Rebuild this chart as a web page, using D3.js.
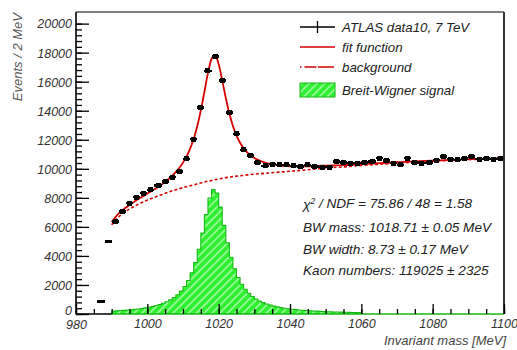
<!DOCTYPE html>
<html><head><meta charset="utf-8">
<script src="https://cdn.jsdelivr.net/npm/d3@7"></script>
<style>
body{margin:0;background:#fff}
svg{display:block}
text{font-family:"Liberation Sans",Arial,Helvetica,sans-serif;font-style:italic}
</style>
</head><body>
<svg id="c" width="517" height="350"></svg>
<script>
// ---- data ----
const dataMass = [987,989,991,993,995,997,999,1001,1003,1005,1007,1009,1011,1013,1015,1017,1019,1021,1023,1025,1027,1029,1031,1033,1035,1037,1039,1041,1043,1045,1047,1049,1051,1053,1055,1057,1059,1061,1063,1065,1067,1069,1071,1073,1075,1077,1079,1081,1083,1085,1087,1089,1091,1093,1095,1097,1099];
const dataEvents = [850,5000,6370,7060,7630,8050,8320,8550,8850,9130,9420,9820,10690,12040,14230,16750,17730,16080,13890,12410,11310,10920,10430,10210,10320,10280,10280,10210,10160,10280,10150,10110,10110,10500,10430,10400,10390,10430,10500,10740,10570,10390,10280,10740,10430,10390,10430,10600,10850,10670,10620,10700,10850,10670,10700,10670,10720];

const fitMass = [990,991,992,993,994,995,996,997,998,999,1000,1001,1002,1003,1004,1005,1006,1007,1008,1009,1010,1011,1012,1013,1014,1015,1016,1017,1018,1019,1020,1021,1022,1023,1024,1025,1026,1027,1028,1029,1030,1031,1032,1033,1034,1035,1036,1037,1038,1039,1040,1042,1044,1046,1048,1050,1055,1060,1065,1070,1075,1080,1085,1090,1095,1100];
const fitValues = [6334,6658,6924,7141,7340,7512,7676,7834,7996,8142,8294,8442,8589,8746,8916,9101,9307,9529,9785,10075,10425,10858,11388,12072,12932,14023,15298,16607,17578,17812,17210,16095,14875,13805,12943,12285,11791,11417,11135,10911,10748,10613,10507,10424,10358,10306,10265,10233,10209,10190,10177,10162,10169,10175,10197,10224,10253,10325,10387,10452,10511,10563,10617,10662,10698,10735];

const bgMass = [990,991,992,993,994,995,996,997,998,999,1000,1002,1004,1006,1008,1010,1012,1014,1016,1018,1020,1022,1024,1026,1028,1030,1032,1034,1036,1038,1040,1042,1044,1046,1048,1050,1055,1060,1065,1070,1075,1080,1085,1090,1095,1100];
const bgValues = [6140,6450,6700,6900,7080,7230,7370,7500,7630,7740,7850,8040,8220,8400,8560,8700,8830,8960,9090,9200,9300,9390,9460,9520,9580,9630,9670,9710,9750,9790,9830,9870,9920,9960,10010,10060,10130,10230,10310,10390,10460,10520,10580,10630,10670,10710];

const signalStart = 990, signalBinWidth = 1, signalEnd = 1100;
const signalValues = [201,216,232,250,271,294,320,349,383,422,467,520,581,654,741,846,974,1132,1329,1577,1895,2306,2842,3550,4457,5582,6847,7988,8580,8327,7363,6106,4904,3905,3118,2515,2054,1700,1427,1209,1037,897,783,689,610,544,488,440,399,363,332,304,280,259,240,223,207,195,182,171,160,151,142,134,127,120,113,108,102,97];

const xMajorTicks = [980,1000,1020,1040,1060,1080,1100];
const yMajorTicks = [0,2000,4000,6000,8000,10000,12000,14000,16000,18000,20000];
const legendLabels = ["ATLAS data10, 7 TeV","fit function","background","Breit-Wigner signal"];
const statLines = ["/ NDF = 75.86 / 48 = 1.58","BW mass: 1018.71 \u00b1 0.05 MeV","BW width: 8.73 \u00b1 0.17 MeV","Kaon numbers: 119025 \u00b1 2325"];
const xTitle = "Invariant mass [MeV]";
const yTitle = "Events / 2 MeV";

// ---- drawing ----
const svg = d3.select("#c");
const L = 76, R = 504, T = 12, B = 314;
const x = d3.scaleLinear().domain([980,1100]).range([L,R]);
const y = d3.scaleLinear().domain([0,20800]).range([B,T]);
const RED = "#d40000", GREEN_FILL = "#2ff02f", GREEN_LINE = "#14b814";

const defs = svg.append("defs");
const pat = defs.append("pattern").attr("id","hatch").attr("patternUnits","userSpaceOnUse")
  .attr("width",5.5).attr("height",5.5).attr("patternTransform","rotate(45)");
pat.append("rect").attr("width",5.5).attr("height",5.5).attr("fill",GREEN_FILL);
pat.append("line").attr("x1",2.75).attr("y1",0).attr("x2",2.75).attr("y2",5.5).attr("stroke","#fff").attr("stroke-width",0.9);

// signal histogram
const sigPts = [[signalStart,0]];
signalValues.forEach((v,i)=>{
  const lo = signalStart + i*signalBinWidth;
  sigPts.push([lo,v]); sigPts.push([lo+signalBinWidth,v]);
});
const lastEdge = signalStart + signalValues.length*signalBinWidth;
sigPts.push([lastEdge,0]);
svg.append("path").datum(sigPts)
  .attr("d", d3.line().x(d=>x(d[0])).y(d=>y(d[1])))
  .attr("fill","url(#hatch)").attr("stroke",GREEN_LINE).attr("stroke-width",1.1).attr("stroke-linejoin","round");

// background (dashed)
svg.append("path").datum(bgMass.map((m,i)=>[m,bgValues[i]]))
  .attr("d", d3.line().x(d=>x(d[0])).y(d=>y(d[1])).curve(d3.curveMonotoneX))
  .attr("fill","none").attr("stroke",RED).attr("stroke-width",1.6).attr("stroke-dasharray","3,2.2");

// fit function
svg.append("path").datum(fitMass.map((m,i)=>[m,fitValues[i]]))
  .attr("d", d3.line().x(d=>x(d[0])).y(d=>y(d[1])).curve(d3.curveMonotoneX))
  .attr("fill","none").attr("stroke",RED).attr("stroke-width",1.8);

// data points
const dg = svg.append("g").attr("shape-rendering","crispEdges");
dataMass.forEach((m,i)=>{
  const v = dataEvents[i], e = Math.sqrt(v);
  dg.append("line").attr("x1",x(m-1)).attr("x2",x(m+1)).attr("y1",y(v)).attr("y2",y(v)).attr("stroke","#000").attr("stroke-width",2.4);
  dg.append("line").attr("x1",x(m)).attr("x2",x(m)).attr("y1",y(v-e)-1).attr("y2",y(v+e)+1).attr("stroke","#000").attr("stroke-width",1.2);
  if (m > 990) dg.append("rect").attr("x",x(m)-2.5).attr("y",y(v)-2.5).attr("width",5).attr("height",5).attr("fill","#000");
});

// green line along baseline beyond the histogram
svg.append("line").attr("x1",x(signalStart)).attr("x2",x(signalEnd)).attr("y1",B).attr("y2",B)
  .attr("stroke",GREEN_LINE).attr("stroke-width",1.6);

// frame
svg.append("line").attr("x1",L).attr("x2",R).attr("y1",T).attr("y2",T).attr("stroke","#000").attr("stroke-width",1.2);
svg.append("line").attr("x1",R).attr("x2",R).attr("y1",T).attr("y2",B).attr("stroke","#222").attr("stroke-width",1.8);
svg.append("line").attr("x1",L).attr("x2",L).attr("y1",T).attr("y2",B+0.5).attr("stroke","#000").attr("stroke-width",1.6);
svg.append("line").attr("x1",L).attr("x2",x(signalStart)).attr("y1",B).attr("y2",B).attr("stroke","#000").attr("stroke-width",1.6);

// axes
const yMinor = d3.range(0,20001,400);
const xMinor = d3.range(980,1101,5);
const yAxisMinor = svg.append("g").attr("transform",`translate(${L},0)`)
  .call(d3.axisLeft(y).tickValues(yMinor).tickSize(-6).tickFormat(""));
const yAxis = svg.append("g").attr("transform",`translate(${L},0)`)
  .call(d3.axisLeft(y).tickValues(yMajorTicks).tickSize(-13).tickPadding(4).tickFormat(d3.format("d")));
const xAxisMinor = svg.append("g").attr("transform",`translate(0,${B})`)
  .call(d3.axisBottom(x).tickValues(xMinor).tickSize(-5).tickFormat(""));
const xAxis = svg.append("g").attr("transform",`translate(0,${B})`)
  .call(d3.axisBottom(x).tickValues(xMajorTicks).tickSize(-10).tickPadding(4).tickFormat(d3.format("d")));
[yAxisMinor,yAxis,xAxisMinor,xAxis].forEach(a=>{
  a.select(".domain").remove();
  a.selectAll(".tick line").attr("stroke","#000").attr("stroke-width",1.3);
});
yAxis.selectAll("text").attr("font-size",12.5).attr("fill","#333").attr("dy","0.35em");
xAxis.selectAll("text").attr("font-size",12.5).attr("fill","#333").attr("y",5).attr("dy","0.71em");
xAxis.selectAll(".tick").filter(d=>d===980).select("text").attr("x",0).attr("y",6);
yAxis.selectAll(".tick").filter(d=>d===0).select("text").attr("dy","0.05em");

// axis titles
svg.append("text").attr("x",R+2).attr("y",345).attr("text-anchor","end").attr("font-size",13).attr("fill","#444").text(xTitle);
svg.append("text").attr("transform","translate(22,13) rotate(-90)").attr("text-anchor","end").attr("font-size",13).attr("fill","#555").text(yTitle);

// legend
const lg = svg.append("g");
const lx0 = 300, lx1 = 335, tx = 342, rows = [27,47,67,90];
lg.append("line").attr("x1",lx0).attr("x2",lx1).attr("y1",rows[0]).attr("y2",rows[0]).attr("stroke","#000").attr("stroke-width",1.3);
lg.append("line").attr("x1",(lx0+lx1)/2).attr("x2",(lx0+lx1)/2).attr("y1",rows[0]-6).attr("y2",rows[0]+6).attr("stroke","#000").attr("stroke-width",1.3);
lg.append("line").attr("x1",lx0).attr("x2",lx1).attr("y1",rows[1]).attr("y2",rows[1]).attr("stroke",RED).attr("stroke-width",1.6);
lg.append("line").attr("x1",lx0).attr("x2",lx1).attr("y1",rows[2]).attr("y2",rows[2]).attr("stroke",RED).attr("stroke-width",1.6).attr("stroke-dasharray","1.5,3,12,1.5,16");
lg.append("rect").attr("x",lx0).attr("y",rows[3]-7).attr("width",lx1-lx0).attr("height",14).attr("fill","url(#hatch)").attr("stroke",GREEN_LINE).attr("stroke-width",1);
legendLabels.forEach((t,i)=>{
  lg.append("text").attr("x",tx).attr("y",rows[i]).attr("dy","0.35em").attr("font-size",13.3).attr("fill","#222").text(t);
});

// fit statistics
const sy = [204,227,249,270];
statLines.forEach((t,i)=>{
  const tt = svg.append("text").attr("x",303).attr("y",sy[i]).attr("dy","0.35em").attr("font-size",13.6).attr("fill","#222");
  if (i===0){
    tt.append("tspan").text("\u03c7");
    tt.append("tspan").attr("font-size",8.5).attr("dy","-0.55em").text("2");
    tt.append("tspan").attr("dy","0.3em").text(" " + t);
  } else tt.text(t);
});
</script>
</body></html>
